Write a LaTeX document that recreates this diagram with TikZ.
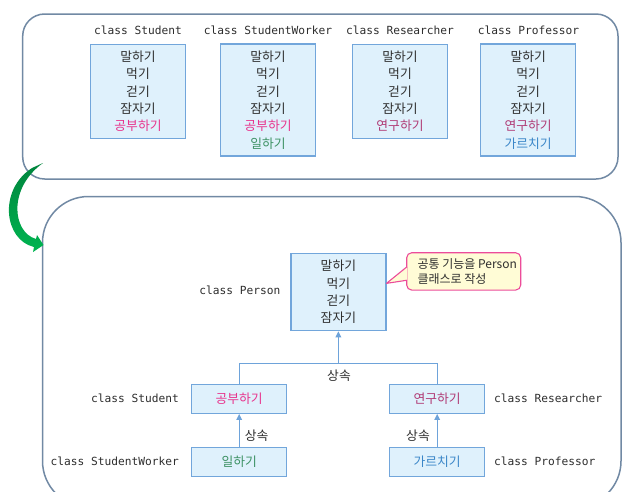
\documentclass[tikz,border=0pt]{standalone}
\usepackage{fontspec}
\newfontfamily\kr{Noto Sans CJK KR}
\newfontfamily\mono{DejaVu Sans Mono}
\usetikzlibrary{arrows.meta,calc}
\definecolor{frame}{HTML}{7189A4}
\definecolor{boxline}{HTML}{72A6DB}
\definecolor{boxfill}{HTML}{DFF1FC}
\definecolor{txt}{HTML}{2E2E2E}
\definecolor{pinkt}{HTML}{E8338C}
\definecolor{maroon}{HTML}{B03A74}
\definecolor{greent}{HTML}{3C9163}
\definecolor{bluet}{HTML}{3A86C8}
\definecolor{callfill}{HTML}{FFFCD6}
\definecolor{callline}{HTML}{EC4C9A}
\definecolor{conncol}{HTML}{6EA3DA}
\definecolor{gtop}{HTML}{00843D}
\definecolor{gbot}{HTML}{00B551}
\begin{document}
\begin{tikzpicture}[x=1pt,y=-1pt,
  cls/.style={font=\mono\fontsize{11.2}{13}\selectfont, text=txt, inner sep=0pt},
  mbox/.style={draw=boxline, fill=boxfill, line width=1.2pt, minimum width=95pt,
    inner sep=0pt, align=center, font=\kr\fontsize{12.8}{17.3}\selectfont, text=txt},
  bigframe/.style={draw=frame, line width=1.5pt},
  conn/.style={draw=conncol, line width=1.4pt},
  inh/.style={conn, -{Triangle[length=6pt,width=5.5pt]}},
  lbl/.style={font=\kr\fontsize{12.8}{14}\selectfont, text=txt, inner sep=0pt},
  callout/.style={draw=callline, fill=callfill, line width=1.1pt, rounded corners=5pt,
    minimum width=114pt, minimum height=37.3pt, inner sep=0pt, align=left,
    font=\kr\fontsize{12}{15.7}\selectfont, text=txt}
]
\useasboundingbox (0,0) rectangle (637,491);
\fill[white] (0,0) rectangle (637,491);

% frames
\draw[bigframe, rounded corners=22pt] (22.7,14) rectangle (618,179);
\begin{scope}
  \clip (0,0) rectangle (637,491);
  \draw[bigframe, rounded corners=46pt] (42.5,196.5) rectangle (621,507);
\end{scope}

% green curved arrow
\shade[top color=gtop, bottom color=gbot]
  (32,168) .. controls (-2,190) and (4,240) .. (34,247)
  -- (33,252) -- (43.5,245) -- (37,235) -- (36,239)
  .. controls (12,232) and (8,188) .. (43,163) -- cycle;

% top row
\node[mbox, minimum height=94.4pt] (s1) at (138,91.5)
  {말하기\\먹기\\걷기\\잠자기\\\textcolor{pinkt}{공부하기}};
\node[mbox, minimum height=112pt] (w1) at (268,100)
  {말하기\\먹기\\걷기\\잠자기\\\textcolor{pinkt}{공부하기}\\\textcolor{greent}{일하기}};
\node[mbox, minimum height=94.4pt] (r1) at (400,91.5)
  {말하기\\먹기\\걷기\\잠자기\\\textcolor{maroon}{연구하기}};
\node[mbox, minimum height=112pt] (p1) at (528.2,100)
  {말하기\\먹기\\걷기\\잠자기\\\textcolor{maroon}{연구하기}\\\textcolor{bluet}{가르치기}};

\node[cls] (s1l) at (138,30) {class Student};
\node[cls] (w1l) at (268,30) {class StudentWorker};
\node[cls] (r1l) at (400,30) {class Researcher};
\node[cls] (p1l) at (528.5,30) {class Professor};

% bottom hierarchy
\node[mbox, minimum height=77.4pt] (person) at (338.4,292)
  {말하기\\먹기\\걷기\\잠자기};
\node[mbox, minimum height=29pt] (s2) at (239.2,398.8) {\textcolor{pinkt}{공부하기}};
\node[mbox, minimum height=29pt] (w2) at (239.2,461.7) {\textcolor{greent}{일하기}};
\node[mbox, minimum height=29pt] (r2) at (437.2,398.8) {\textcolor{maroon}{연구하기}};
\node[mbox, minimum height=29pt] (p2) at (437.2,461.7) {\textcolor{bluet}{가르치기}};

\node[cls, anchor=east] (personl) at (280.5,290) {class Person};
\node[cls, anchor=east] (s2l) at (179,398.5) {class Student};
\node[cls, anchor=east] (w2l) at (179,461) {class StudentWorker};
\node[cls, anchor=west] (r2l) at (494,398.5) {class Researcher};
\node[cls, anchor=west] (p2l) at (494,461) {class Professor};

% connectors
\coordinate (jn) at ($(person.south)+(0,32)$);
\draw[conn] (s2.north) |- (jn) -| (r2.north);
\draw[inh] (jn) -- (person.south);
\draw[inh] (w2.north) -- (s2.south);
\draw[inh] (p2.north) -- (r2.south);

\node[lbl] (inh1) at (339,375.5) {상속};
\node[lbl] (inh2) at (256.7,436) {상속};
\node[lbl] (inh3) at (418,436) {상속};

% callout
\node[callout] (call) at (463.7,271.4)
  {\hspace*{7pt}공통 기능을 Person\\\hspace*{7pt}클래스로 작성};
\coordinate (ca) at ($(call.north west)!0.38!(call.south west)+(0.8,0)$);
\coordinate (cb) at ($(call.north west)!0.73!(call.south west)+(0.8,0)$);
\coordinate (tip) at ($(person.north east)!0.39!(person.south east)$);
\fill[callfill] (ca) -- (tip) -- (cb) -- cycle;
\draw[callline, line width=1.1pt, line join=round] (ca) -- (tip) -- (cb);
\end{tikzpicture}
\end{document}
